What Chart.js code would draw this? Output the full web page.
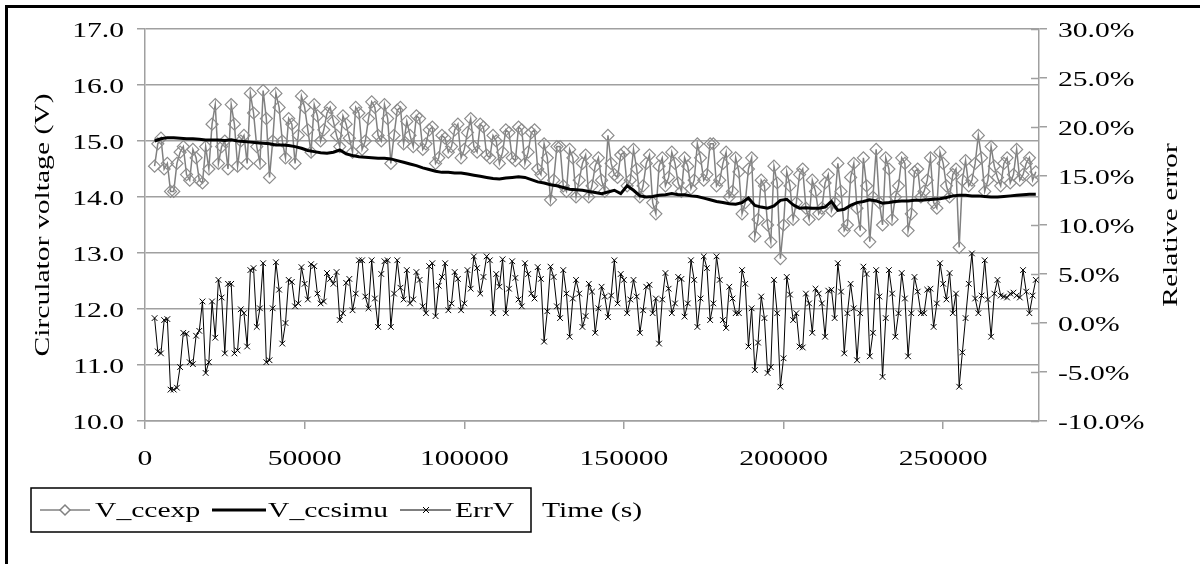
<!DOCTYPE html>
<html><head><meta charset="utf-8">
<script src="https://cdn.jsdelivr.net/npm/chart.js@4.4.0/dist/chart.umd.min.js"></script>
<style>html,body{margin:0;padding:0;background:#fff;}canvas{display:block;}</style>
</head><body>
<canvas id="c" width="1200" height="564"></canvas>
<script>
// measured time stamps (s)
const timeExp = [
3000,4000,5000,6000,7000,8000,9000,10000,11000,12000,13000,14000,15000,16000,17000,18000,19000,20000,21000,22000,
23000,24000,25000,26000,27000,28000,29000,30000,31000,32000,33000,34000,35000,36000,37000,38000,39000,40000,41000,42000,
43000,44000,45000,46000,47000,48000,49000,50000,51000,52000,53000,54000,55000,56000,57000,58000,59000,60000,61000,62000,
63000,64000,65000,66000,67000,68000,69000,70000,71000,72000,73000,74000,75000,76000,77000,78000,79000,80000,81000,82000,
83000,84000,85000,86000,87000,88000,89000,90000,91000,92000,93000,94000,95000,96000,97000,98000,99000,100000,101000,102000,
103000,104000,105000,106000,107000,108000,109000,110000,111000,112000,113000,114000,115000,116000,117000,118000,119000,120000,121000,122000,
123000,124000,125000,126000,127000,128000,129000,130000,131000,132000,133000,134000,135000,136000,137000,138000,139000,140000,141000,142000,
143000,144000,145000,146000,147000,148000,149000,150000,151000,152000,153000,154000,155000,156000,157000,158000,159000,160000,161000,162000,
163000,164000,165000,166000,167000,168000,169000,170000,171000,172000,173000,174000,175000,176000,177000,178000,179000,180000,181000,182000,
183000,184000,185000,186000,187000,188000,189000,190000,191000,192000,193000,194000,195000,196000,197000,198000,199000,200000,201000,202000,
203000,204000,205000,206000,207000,208000,209000,210000,211000,212000,213000,214000,215000,216000,217000,218000,219000,220000,221000,222000,
223000,224000,225000,226000,227000,228000,229000,230000,231000,232000,233000,234000,235000,236000,237000,238000,239000,240000,241000,242000,
243000,244000,245000,246000,247000,248000,249000,250000,251000,252000,253000,254000,255000,256000,257000,258000,259000,260000,261000,262000,
263000,264000,265000,266000,267000,268000,269000,270000,271000,272000,273000,274000,275000,276000,277000,278000,279000];

const timeSim = [
3000,5000,7000,9000,11000,13000,15000,17000,19000,21000,
23000,25000,27000,29000,31000,33000,35000,37000,39000,41000,
43000,45000,47000,49000,51000,53000,55000,57000,59000,61000,
63000,65000,67000,69000,71000,73000,75000,77000,79000,81000,
83000,85000,87000,89000,91000,93000,95000,97000,99000,101000,
103000,105000,107000,109000,111000,113000,115000,117000,119000,121000,
123000,125000,127000,129000,131000,133000,135000,137000,139000,141000,
143000,145000,147000,149000,151000,153000,155000,157000,159000,161000,
163000,165000,167000,169000,171000,173000,175000,177000,179000,181000,
183000,185000,187000,189000,191000,193000,195000,197000,199000,201000,
203000,205000,207000,209000,211000,213000,215000,217000,219000,221000,
223000,225000,227000,229000,231000,233000,235000,237000,239000,241000,
243000,245000,247000,249000,251000,253000,255000,257000,259000,261000,
263000,265000,267000,269000,271000,273000,275000,277000,279000];

const vCcExp = [
14.55,14.95,15.05,14.5,14.6,14.1,14.1,14.6,14.8,14.9,14.4,14.3,14.85,14.7,14.3,14.25,14.9,14.5,15.3,15.65,
14.6,14.9,15.0,14.5,15.65,15.3,14.55,15.0,15.1,14.6,15.85,15.5,14.9,14.6,15.9,15.4,14.35,15.0,15.85,15.6,
15.0,14.7,15.4,15.3,14.6,15.1,15.8,15.6,15.2,14.8,15.65,15.45,15.0,15.2,15.5,15.6,15.35,15.1,14.9,15.45,
15.3,15.05,14.8,15.6,15.5,14.85,15.0,15.4,15.7,15.6,15.1,15.0,15.65,15.4,14.6,15.1,15.55,15.6,14.95,15.35,
15.1,14.9,15.45,15.4,14.85,14.95,15.2,15.25,14.6,14.7,15.1,15.05,14.8,14.9,15.2,15.3,14.7,14.85,15.15,15.4,
14.9,14.8,15.3,15.25,14.75,14.7,15.1,15.0,14.6,14.8,15.2,15.15,14.7,14.65,15.25,15.2,14.6,14.8,15.15,15.2,
14.5,14.4,14.95,14.7,13.95,14.3,14.9,14.9,14.2,14.1,14.85,14.7,14.0,14.3,14.6,14.75,14.0,14.2,14.55,14.7,
14.3,14.1,15.1,14.6,14.4,14.35,14.75,14.8,14.2,14.3,14.85,14.5,14.0,14.2,14.6,14.75,13.9,13.7,14.55,14.7,
14.2,14.35,14.8,14.6,14.25,14.1,14.7,14.55,14.15,14.3,14.95,14.7,14.3,14.4,14.95,14.95,14.2,14.3,14.6,14.8,
14.0,14.1,14.7,14.45,13.7,13.9,14.5,14.7,13.3,13.6,14.3,14.2,13.5,13.2,14.55,14.25,12.9,13.5,14.45,14.2,
13.6,13.9,14.4,14.5,13.8,13.6,14.3,14.1,13.7,13.8,14.25,14.4,13.75,13.9,14.6,14.1,13.4,13.5,14.35,14.6,
13.8,13.4,14.7,14.2,13.2,14.0,14.85,13.9,13.5,14.7,14.5,13.6,14.0,14.2,14.7,14.6,13.4,13.7,14.45,14.5,
14.0,14.1,14.3,14.7,13.9,13.8,14.8,14.6,14.2,14.0,14.4,14.5,13.1,14.3,14.65,14.2,14.3,14.6,15.1,14.7,
14.1,14.3,14.9,14.55,14.35,14.2,14.6,14.7,14.25,14.4,14.85,14.3,14.4,14.6,14.7,14.3,14.45];

const vCcSimu = [
15.0,15.04,15.06,15.06,15.05,15.04,15.04,15.03,15.02,15.02,
15.02,15.01,15.02,15.0,14.99,14.98,14.97,14.96,14.95,14.93,
14.93,14.92,14.9,14.87,14.83,14.81,14.79,14.78,14.8,14.84,
14.77,14.74,14.72,14.71,14.7,14.69,14.69,14.68,14.65,14.62,
14.59,14.56,14.52,14.49,14.46,14.44,14.44,14.43,14.43,14.41,
14.39,14.37,14.35,14.33,14.32,14.34,14.35,14.36,14.35,14.31,
14.27,14.25,14.22,14.2,14.17,14.14,14.13,14.12,14.1,14.08,
14.06,14.09,14.12,14.06,14.2,14.12,14.02,14.0,14.01,14.03,
14.04,14.06,14.04,14.04,14.02,14.01,13.98,13.95,13.92,13.9,
13.88,13.87,13.9,13.98,13.85,13.82,13.8,13.84,13.94,13.96,
13.86,13.8,13.81,13.8,13.8,13.82,13.92,13.76,13.78,13.85,
13.9,13.92,13.95,13.93,13.89,13.9,13.92,13.93,13.93,13.94,
13.94,13.95,13.96,13.97,13.99,14.02,14.03,14.03,14.02,14.02,
14.01,14.0,14.0,14.01,14.02,14.03,14.04,14.05,14.05];

const errV = [
0.5,-2.9,-3.1,0.3,0.4,-6.8,-6.8,-6.6,-4.5,-1.0,-1.1,-4.0,-4.2,-1.3,-0.8,2.2,-5.1,-4.0,2.2,-1.5,
4.4,2.6,-3.1,4.0,4.0,-3.1,-2.8,1.4,1.0,-2.4,5.4,5.6,-0.4,1.5,6.1,-4.0,-3.8,1.5,6.2,3.4,
-2.1,0.0,4.4,4.2,1.7,2.0,5.7,4.0,2.4,6.0,5.8,3.0,2.0,2.2,5.1,4.5,4.0,5.2,0.3,1.0,
4.1,4.5,1.3,3.0,6.4,6.4,2.7,1.5,6.4,2.5,-0.4,5.0,6.3,6.4,-0.4,3.0,6.4,3.6,2.4,5.4,
2.0,2.4,5.2,4.4,1.7,1.0,5.8,6.1,0.7,3.8,4.7,6.1,1.3,2.0,5.2,4.5,1.3,2.0,5.4,3.5,
6.8,5.6,3.0,4.7,6.8,6.4,1.0,5.0,3.7,6.5,1.0,3.5,6.3,4.6,2.4,1.7,6.1,5.0,3.0,2.5,
5.7,4.5,-1.9,1.2,5.75,4.7,1.7,0.5,5.4,3.0,-1.4,2.5,4.4,3.0,-0.4,0.7,4.0,3.2,-1.0,1.5,
3.7,2.7,0.6,2.8,6.4,2.0,5.0,4.4,1.0,2.4,4.4,2.7,-1.0,1.3,3.7,3.9,1.0,2.5,-2.1,2.4,
5.1,3.5,1.0,2.0,4.7,4.5,0.65,2.0,6.4,4.4,-0.4,2.5,6.8,5.6,0.3,2.0,6.8,4.4,0.3,-0.5,
3.7,2.5,1.0,1.0,5.4,4.0,-2.4,1.5,-4.8,-2.0,2.7,0.5,-5.1,-4.5,4.4,1.0,-6.5,-3.6,4.7,2.9,
0.3,1.0,-2.4,-2.5,3.0,2.0,-1.0,3.5,3.0,2.0,-1.4,3.3,3.4,0.5,6.1,3.2,-3.1,1.0,4.0,1.5,
-3.8,1.0,5.75,5.0,-3.4,-1.0,5.4,2.7,-5.5,0.5,5.4,3.0,-1.4,1.0,5.1,2.5,-3.4,1.0,4.7,3.2,
1.0,1.0,3.4,3.5,-0.4,2.0,6.1,4.0,2.4,5.1,1.0,3.0,-6.5,-3.0,0.5,4.0,7.1,2.5,1.0,2.8,
6.4,2.4,-1.4,3.0,4.4,2.8,2.7,2.6,3.0,3.1,2.8,2.6,5.4,3.2,1.0,2.8,4.4];

const leftTicks = [10,11,12,13,14,15,16,17];
const rightTicks = [-10,-5,0,5,10,15,20,25,30];
const xTicks = [0,50000,100000,150000,200000,250000];
const seriesNames = ['V_ccexp','V_ccsimu','ErrV'];
const yTitle = 'Circulator voltage (V)';
const y1Title = 'Relative error';
const xTitle = 'Time (s)';

const pts = (ts, ys) => ts.map((t, i) => ({x: t, y: ys[i]}));
const GRID = '#a0a0a0';
const SX = 1.48;
const FONT = '20px "Liberation Serif", "Times New Roman", serif';

function txt(ctx, s, x, y, align, rot, base) {
  ctx.save();
  ctx.translate(x, y);
  if (rot) ctx.rotate(rot);
  ctx.scale(SX, 1);
  ctx.font = FONT;
  ctx.fillStyle = '#000';
  ctx.textAlign = align;
  ctx.textBaseline = base || 'alphabetic';
  ctx.fillText(s, 0, 0);
  ctx.restore();
}

const deco = {
  id: 'deco',
  afterDraw(chart) {
    const ctx = chart.ctx;
    const sx = chart.scales.x, sy = chart.scales.y, sy1 = chart.scales.y1;
    const ca = chart.chartArea;
    ctx.save();
    ctx.strokeStyle = GRID; ctx.lineWidth = 1.5;
    rightTicks.forEach(v => {
      const y = Math.round(sy1.getPixelForValue(v)) + 0.5;
      ctx.beginPath(); ctx.moveTo(ca.right - 8, y); ctx.lineTo(ca.right, y); ctx.stroke();
    });
    ctx.restore();
    leftTicks.forEach(v => txt(ctx, v.toFixed(1), 124, sy.getPixelForValue(v) + 8, 'right'));
    rightTicks.forEach(v => txt(ctx, v.toFixed(1) + '%', 1058, sy1.getPixelForValue(v) + 8, 'left'));
    xTicks.forEach(v => txt(ctx, String(v), sx.getPixelForValue(v), 465, 'center'));
    txt(ctx, yTitle, 44, (ca.top + ca.bottom) / 2, 'center', -Math.PI / 2, 'middle');
    txt(ctx, y1Title, 1172, (ca.top + ca.bottom) / 2, 'center', -Math.PI / 2, 'middle');
    const bx = 31, by = 488, bw = 500, bh = 44, cy = by + bh / 2;
    ctx.save();
    ctx.strokeStyle = '#000'; ctx.lineWidth = 1.5;
    ctx.strokeRect(bx, by, bw, bh);
    ctx.strokeStyle = '#808080'; ctx.lineWidth = 1.5;
    ctx.beginPath(); ctx.moveTo(40, cy); ctx.lineTo(90, cy); ctx.stroke();
    ctx.fillStyle = '#fff';
    ctx.beginPath(); ctx.moveTo(60, cy); ctx.lineTo(65, cy - 5); ctx.lineTo(70, cy); ctx.lineTo(65, cy + 5); ctx.closePath(); ctx.fill(); ctx.stroke();
    ctx.strokeStyle = '#000'; ctx.lineWidth = 3;
    ctx.beginPath(); ctx.moveTo(212, cy); ctx.lineTo(266, cy); ctx.stroke();
    ctx.lineWidth = 1;
    ctx.beginPath(); ctx.moveTo(400, cy); ctx.lineTo(451, cy); ctx.stroke();
    ctx.beginPath(); ctx.moveTo(423, cy - 3); ctx.lineTo(429, cy + 3); ctx.moveTo(429, cy - 3); ctx.lineTo(423, cy + 3); ctx.stroke();
    ctx.restore();
    txt(ctx, seriesNames[0], 95, cy + 7, 'left');
    txt(ctx, seriesNames[1], 268, cy + 7, 'left');
    txt(ctx, seriesNames[2], 455, cy + 7, 'left');
    txt(ctx, xTitle, 542, cy + 7, 'left');
    ctx.fillStyle = '#000';
    ctx.fillRect(5, 5, 3, 559);
    ctx.fillRect(5, 5, 1195, 3);
  }
};

new Chart(document.getElementById('c'), {
  type: 'line',
  data: {
    datasets: [
      {label: seriesNames[0], data: pts(timeExp, vCcExp), yAxisID: 'y', order: 3,
       borderColor: '#808080', borderWidth: 1.5, pointStyle: 'rectRot', pointRadius: 6,
       pointBorderColor: '#8c8c8c', pointBackgroundColor: 'rgba(255,255,255,0)', pointBorderWidth: 1.2,
       tension: 0},
      {label: seriesNames[1], data: pts(timeSim, vCcSimu), yAxisID: 'y', order: 1,
       borderColor: '#000', borderWidth: 3, pointRadius: 0, tension: 0},
      {label: seriesNames[2], data: pts(timeExp, errV), yAxisID: 'y1', order: 2,
       borderColor: '#000', borderWidth: 1, pointStyle: 'crossRot', pointRadius: 4,
       pointBorderColor: '#000', pointBorderWidth: 1, tension: 0}
    ]
  },
  options: {
    responsive: false, animation: false, devicePixelRatio: 1,
    layout: {padding: {top: 29, left: 0, right: 0, bottom: 0}},
    plugins: {legend: {display: false}, tooltip: {enabled: false}},
    scales: {
      x: {type: 'linear', min: 0, max: 280000,
          afterBuildTicks: s => { s.ticks = xTicks.map(v => ({value: v})); },
          afterFit: s => { s.height = 143; },
          ticks: {display: false},
          grid: {drawOnChartArea: false, drawTicks: true, tickLength: 8, color: GRID, lineWidth: 1.5},
          border: {color: GRID, width: 1.5}},
      y: {position: 'left', min: 10, max: 17,
          afterBuildTicks: s => { s.ticks = leftTicks.map(v => ({value: v})); },
          afterFit: s => { s.width = 145; },
          ticks: {display: false},
          grid: {drawTicks: true, tickLength: 8, color: GRID, lineWidth: 1.5},
          border: {color: GRID, width: 1.5}},
      y1: {position: 'right', min: -10, max: 30,
          afterBuildTicks: s => { s.ticks = rightTicks.map(v => ({value: v})); },
          afterFit: s => { s.width = 161; },
          ticks: {display: false},
          grid: {drawOnChartArea: false, drawTicks: true, tickLength: 8, color: GRID, lineWidth: 1.5},
          border: {color: GRID, width: 1.5}}
    }
  },
  plugins: [deco]
});
</script>
</body></html>
